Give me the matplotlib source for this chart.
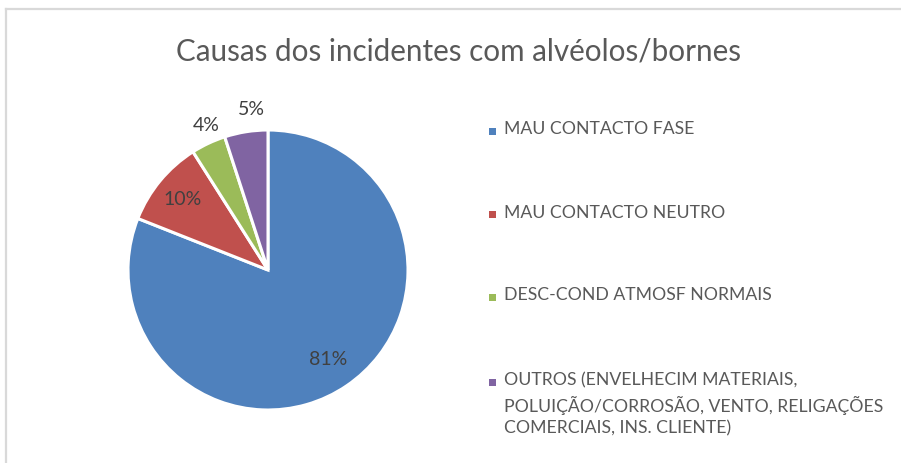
import numpy as np
import matplotlib.pyplot as plt
from matplotlib.patches import Rectangle
from matplotlib.lines import Line2D

plt.rcParams['font.family'] = ['Lato', 'DejaVu Sans']

# data
title = 'Causas dos incidentes com alvéolos/bornes'
categories = ['MAU CONTACTO FASE',
              'MAU CONTACTO NEUTRO',
              'DESC-COND ATMOSF NORMAIS',
              'OUTROS (ENVELHECIM MATERIAIS,\nPOLUIÇÃO/CORROSÃO, VENTO, RELIGAÇÕES\nCOMERCIAIS, INS. CLIENTE)']
values = [81, 10, 4, 5]
colors = ['#4F81BD', '#C0504D', '#9BBB59', '#8064A2']

# label placement (radius factor, angle shift in deg) - like excel best fit
lab_r = [0.77, 0.79, 1.12, 1.15]
lab_shift = [0, 0, -2, -3]

W, H = 901, 463
fig = plt.figure(figsize=(W / 100, H / 100), dpi=100)

# chart frame (light gray, only top and left visible)
fig.add_artist(Line2D([6 / W, 1], [1 - 9 / H, 1 - 9 / H], color='#d9d9d9', lw=1.6))
fig.add_artist(Line2D([6 / W, 6 / W], [0, 1 - 9 / H], color='#d9d9d9', lw=1.6))

fig.text(458 / W, 1 - 52 / H, title, ha='center', va='center',
         fontsize=21.3, color='#595959')

# pie axes: center (268, 270) px, radius 140 px
cx, cy, r = 268, 270, 140
ax = fig.add_axes([(cx - r) / W, (H - cy - r) / H, 2 * r / W, 2 * r / H])
wedges, _ = ax.pie(values, colors=colors, startangle=90, counterclock=False,
                   radius=1, wedgeprops=dict(edgecolor='white', linewidth=2.2))
ax.set_xlim(-1, 1)
ax.set_ylim(-1, 1)
ax.set_aspect('equal')
ax.axis('off')

for w, v, rf, sh in zip(wedges, values, lab_r, lab_shift):
    mid = np.deg2rad((w.theta1 + w.theta2) / 2 + sh)
    ax.text(rf * np.cos(mid), rf * np.sin(mid), f'{v}%', ha='center', va='center',
            fontsize=14, color='#404040', clip_on=False)

# legend drawn by hand so the marker sits on the first line
leg_y = [131, 214, 297, 382]
for lab, c, y in zip(categories, colors, leg_y):
    fig.add_artist(Rectangle((489 / W, 1 - (y + 3.5) / H), 7 / W, 7 / H,
                             facecolor=c, edgecolor='none'))
    fig.text(504 / W, 1 - (y - 9.5) / H, lab, ha='left', va='top',
             fontsize=12.7, color='#595959', linespacing=1.45)

fig.savefig('out.png', dpi=100)
